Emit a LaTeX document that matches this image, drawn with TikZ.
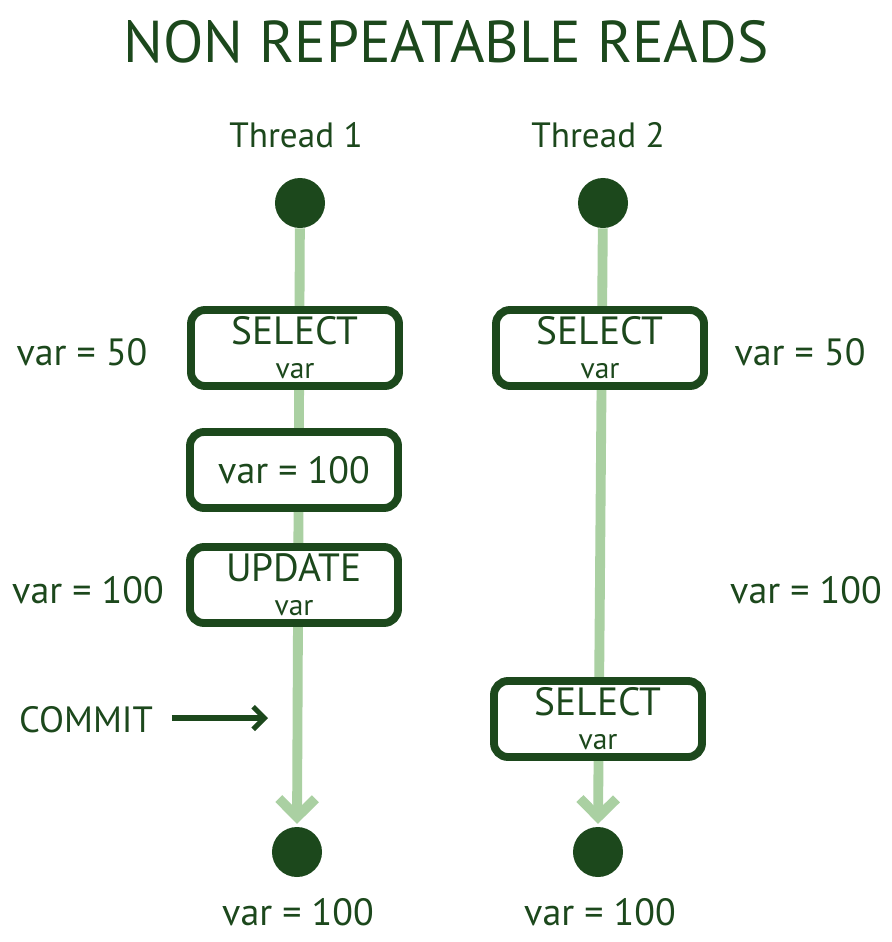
\documentclass[tikz,border=0pt]{standalone}
\usepackage{fontspec}
\setmainfont{PT Sans}
\usetikzlibrary{arrows.meta,positioning}
\definecolor{ink}{RGB}{28,72,28}
\definecolor{lane}{RGB}{170,208,162}
\tikzset{
  opbox/.style={draw=ink,line width=5.6pt,rounded corners=10pt,fill=white,
    minimum width=5.2cm,minimum height=1.9cm,align=center,text=ink,inner sep=0pt,
    font=\fontsize{21}{24}\selectfont},
  dot/.style={circle,fill=ink,minimum size=1.25cm,inner sep=0pt},
  lbl/.style={text=ink,font=\fontsize{27}{29}\selectfont},
  lanearrow/.style={lane,line width=7pt,-{Straight Barb[length=13pt,width=26pt,line width=7pt]}},
}
\newcommand{\opfont}[2]{{\fontsize{28}{24}\selectfont #1}\\#2}

\begin{document}
\begin{tikzpicture}[x=0.025cm,y=-0.025cm]
  \useasboundingbox[fill=white] (0,0) rectangle (892,942);

  % title and heads
  \node[text=ink,font=\fontsize{42}{46}\selectfont] (title) at (446,42) {NON REPEATABLE READS};
  \node[text=ink,font=\fontsize{25}{27}\selectfont] (head1) at (296,135) {Thread 1};
  \node[text=ink,font=\fontsize{25}{27}\selectfont] (head2) at (598,135) {Thread 2};

  % start and end points
  \node[dot] (s1) at (300,203) {};
  \node[dot] (s2) at (603,203) {};
  \node[dot] (e1) at (297,852) {};
  \node[dot] (e2) at (598,852) {};

  % lanes
  \draw[lanearrow,shorten >=2pt] (s1) -- (e1.north);
  \draw[lanearrow,shorten >=2pt] (s2) -- (e2.north);

  % thread 1
  \node[opbox] (sel1) at (295,348) {\opfont{SELECT}{var}};
  \node[opbox,font=\fontsize{27}{29}\selectfont] (set1) at (294,470) {var = 100};
  \node[opbox] (upd1) at (294,585) {\opfont{UPDATE}{var}};

  % thread 2
  \node[opbox] (sel2) at (600,348) {\opfont{SELECT}{var}};
  \node[opbox] (sel3) at (598,719) {\opfont{SELECT}{var}};

  % values
  \node[lbl] (v1) at (82,352) {var = 50};
  \node[lbl] (v2) at (88,590) {var = 100};
  \node[lbl] (v3) at (800,352) {var = 50};
  \node[lbl] (v4) at (806,590) {var = 100};
  \node[lbl] (v5) at (298,912) {var = 100};
  \node[lbl] (v6) at (600,912) {var = 100};

  % commit
  \node[lbl,font=\fontsize{26}{28}\selectfont] (commit) at (86,720) {COMMIT};
  \coordinate (cpt) at (268,718);
  \draw[ink,line width=3.6pt,-{Straight Barb[length=8pt,width=16pt,line width=3.6pt]}]
    (commit.east) ++(14,-2) -- (cpt);
\end{tikzpicture}
\end{document}
